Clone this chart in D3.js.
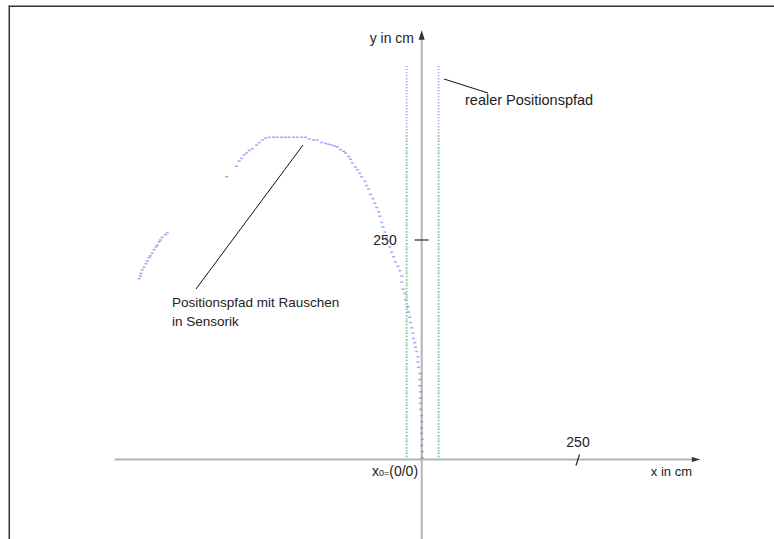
<!DOCTYPE html>
<html>
<head>
<meta charset="utf-8">
<script src="https://cdn.jsdelivr.net/npm/d3@7"></script>
<style>
  html, body { margin: 0; padding: 0; background: #fff; }
  svg { display: block; font-family: "Liberation Sans", Arial, sans-serif; }
</style>
</head>
<body>
<svg id="chart" width="774" height="539"></svg>
<script>
// ---- data (cm) ----
const noisyPathX = [1,1,0,1,0,0,0,0,-2,-2,-2,-2,-3,-3,-3,-5,-6,-6,-8,-10,-11,-13,-14,-16,-18,-19,-21,-22,-26,-27,-30,-32,-32,-35,-38,-42,-45,-48,-51,-54,-56,-59,-62,-64,-67,-69,-72,-75,-78,-82,-85,-88,-91,-96,-99,-103,-106,-111,-114,-117,-122,-125,-130,-135,-139,-144,-149,-154,-160,-167,-173,-180,-186,-192,-199,-205,-212,-218,-224,-231,-237,-244,-250,-255,-260,-264,-271,-276,-280,-284,-288,-292,-296,-312,-407,-410,-415,-418,-420,-423,-425,-428,-431,-434,-436,-439,-441,-444,-447,-449,-450,-452];
const noisyPathY = [2,9,16,23,30,36,43,50,57,64,70,77,84,91,98,105,111,117,123,128,133,138,144,150,156,162,168,174,182,189,194,202,209,215,220,225,231,236,242,249,253,259,265,270,277,282,287,292,297,302,308,312,317,322,326,330,333,338,342,345,349,351,353,356,357,358,359,360,361,364,364,365,367,367,367,367,367,367,367,367,367,367,366,364,361,358,354,352,349,347,343,340,334,322,258,256,253,250,248,244,242,239,235,232,230,226,223,219,216,212,209,206];
const realPathX = [-24, 27];        // two straight reference tracks
const realPathTop = 448;            // cm
const greenPathTop = 371;           // cm
const xTickValues = [250];
const yTickValues = [250];
const xTickLabels = ["250"];
const yTickLabels = ["250"];

// ---- scales ----
const x = d3.scaleLinear().domain([-500, 500]).range([109.1, 734.3]);
const y = d3.scaleLinear().domain([-100, 500]).range([547.3, 20.5]);

const svg = d3.select("#chart");

// frame
svg.append("line").attr("x1", 8).attr("x2", 774).attr("y1", 5.5).attr("y2", 5.5)
  .attr("stroke", "#999").attr("stroke-width", 1);
svg.append("line").attr("x1", 8).attr("x2", 774).attr("y1", 6.5).attr("y2", 6.5)
  .attr("stroke", "#333").attr("stroke-width", 1);
svg.append("line").attr("x1", 8.5).attr("x2", 8.5).attr("y1", 5).attr("y2", 539)
  .attr("stroke", "#999").attr("stroke-width", 1);
svg.append("line").attr("x1", 9.5).attr("x2", 9.5).attr("y1", 6).attr("y2", 539)
  .attr("stroke", "#333").attr("stroke-width", 1);

// axes lines
const axisColor = "#b4b4b4";
svg.append("line").attr("x1", x(-491)).attr("x2", x(432)).attr("y1", y(0)).attr("y2", y(0))
  .attr("stroke", axisColor).attr("stroke-width", 2);
svg.append("line").attr("x1", x(0)).attr("x2", x(0)).attr("y1", y(480)).attr("y2", y(-100))
  .attr("stroke", axisColor).attr("stroke-width", 2);

// arrowheads
svg.append("path")
  .attr("d", `M${x(0)},${y(489)} L${x(0) - 3},${y(478)} L${x(0) + 3},${y(478)} Z`)
  .attr("fill", "#333");
svg.append("path")
  .attr("d", `M${x(446)},${y(0)} L${x(432)},${y(0) - 2.5} L${x(432)},${y(0) + 2.5} Z`)
  .attr("fill", "#333");

// ticks
yTickValues.forEach((v, i) => {
  svg.append("line").attr("x1", x(0) - 7).attr("x2", x(0) + 7).attr("y1", y(v)).attr("y2", y(v))
    .attr("stroke", "#555").attr("stroke-width", 1.5);
  svg.append("text").attr("x", x(0) - 25).attr("y", y(v) + 5).attr("text-anchor", "end")
    .attr("font-size", 14).attr("fill", "#222").text(yTickLabels[i]);
});
xTickValues.forEach((v, i) => {
  svg.append("line").attr("x1", x(v) - 2).attr("x2", x(v) + 1.5).attr("y1", y(0) + 6).attr("y2", y(0) - 5)
    .attr("stroke", "#333").attr("stroke-width", 1.3);
  svg.append("text").attr("x", x(v)).attr("y", y(0) - 13).attr("text-anchor", "middle")
    .attr("font-size", 14).attr("fill", "#222").text(xTickLabels[i]);
});

// reference (real) tracks: blue dotted, green dotted lower part
realPathX.forEach(v => {
  svg.append("line").attr("x1", x(v)).attr("x2", x(v)).attr("y1", y(realPathTop)).attr("y2", y(0))
    .attr("stroke", "#9a9af0").attr("stroke-width", 2).attr("stroke-dasharray", "1,2");
  svg.append("line").attr("x1", x(v)).attr("x2", x(v)).attr("y1", y(greenPathTop)).attr("y2", y(0))
    .attr("stroke", "#7ce87c").attr("stroke-width", 2).attr("stroke-dasharray", "1,3")
    .attr("stroke-dashoffset", 2);
});

// noisy path dots
const pts = noisyPathX.map((v, i) => [v, noisyPathY[i]]);
svg.append("g").selectAll("rect").data(pts).join("rect")
  .attr("x", d => x(d[0]) - 1.5).attr("y", d => y(d[1]) - 0.75)
  .attr("width", 3).attr("height", 1.5)
  .attr("fill", "#6a6af2").attr("opacity", 0.6);

// axis titles
svg.append("text").attr("x", 414).attr("y", 43).attr("text-anchor", "end")
  .attr("font-size", 14).attr("fill", "#222").text("y in cm");
svg.append("text").attr("x", 692).attr("y", 476).attr("text-anchor", "end")
  .attr("font-size", 13).attr("fill", "#222").text("x in cm");

// origin label
const o = svg.append("text").attr("x", 372).attr("y", 476).attr("fill", "#222").attr("font-size", 14);
o.append("tspan").text("x");
o.append("tspan").attr("font-size", 9).text("0=");
o.append("tspan").text("(0/0)");

// annotations
svg.append("line").attr("x1", 444).attr("y1", 79).attr("x2", 488).attr("y2", 93)
  .attr("stroke", "#111").attr("stroke-width", 1);
svg.append("text").attr("x", 465).attr("y", 105).attr("font-size", 14.5).attr("fill", "#222")
  .text("realer Positionspfad");

svg.append("line").attr("x1", 196).attr("y1", 289).attr("x2", 303).attr("y2", 145)
  .attr("stroke", "#111").attr("stroke-width", 1);
svg.append("text").attr("x", 172).attr("y", 307).attr("font-size", 13.5).attr("fill", "#222")
  .text("Positionspfad mit Rauschen");
svg.append("text").attr("x", 172).attr("y", 326).attr("font-size", 13.5).attr("fill", "#222")
  .text("in Sensorik");
</script>
</body>
</html>
